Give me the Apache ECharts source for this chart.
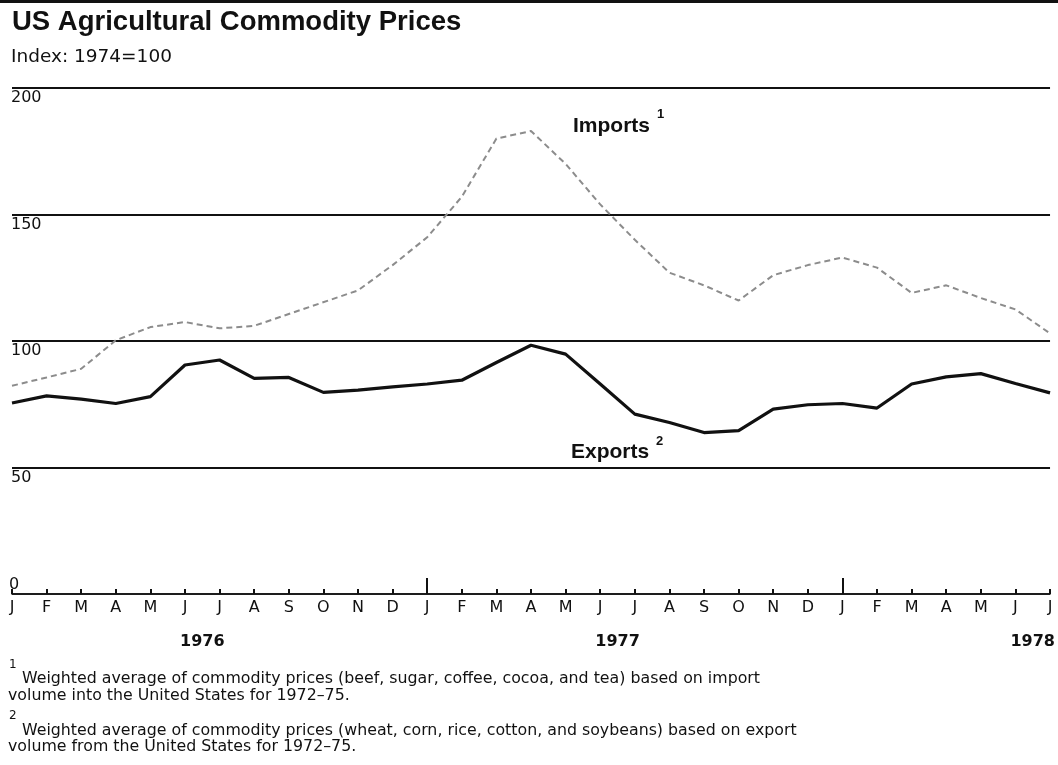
<!DOCTYPE html>
<html>
<head>
<meta charset="utf-8">
<title>US Agricultural Commodity Prices</title>
<script src="https://cdn.jsdelivr.net/npm/echarts@6/dist/echarts.min.js"></script>
<style>
  html, body { margin: 0; padding: 0; background: #fff; }
  #main { width: 1058px; height: 765px; }
</style>
</head>
<body>
<div id="main"></div>
<script>
// month letters, Jan 1976 .. Jul 1978
var months = ['J','F','M','A','M','J','J','A','S','O','N','D',
              'J','F','M','A','M','J','J','A','S','O','N','D',
              'J','F','M','A','M','J','J'];

// index, 1974 = 100
var imports = [82.3, 85.6, 89, 100.3, 105.5, 107.5, 105, 106, null, null, 120, 130,
               141, 157, 180, 183, 170, 154, 140, 127, 122, 116, 126, 130,
               133, 129, 119, 122, 117, 112.5, 103];
var exports = [75.5, 78.3, 77, 75.3, 78, 90.5, 92.5, 85.2, 85.6, 79.7, 80.6, 81.9,
               83, 84.5, 91.5, 98.3, 94.8, 83, 71.1, 67.8, 63.8, 64.6, 73.1, 74.8,
               75.3, 73.5, 83, 85.8, 87.1, 83.2, 79.5];

var yTicks = [0, 50, 100, 150, 200];
var years = ['1976', '1977', '1978'];
var yearPos = [5.5, 17.5, 29.5];   // between June and July of each year
var janIdx = [12, 24];             // long ticks

var footnotes = [
  ['1', 'Weighted average of commodity prices (beef, sugar, coffee, cocoa, and tea) based on import',
   'volume into the United States for 1972\u201375.'],
  ['2', 'Weighted average of commodity prices (wheat, corn, rice, cotton, and soybeans) based on export',
   'volume from the United States for 1972\u201375.']
];

var body = 'DejaVu Sans';
var myChart = echarts.init(document.getElementById('main'));

var option = {
  animation: false,
  backgroundColor: '#fff',
  grid: { left: 12, right: 3, top: 88, bottom: 171, containLabel: false },
  xAxis: [
    {
      type: 'category', data: months, boundaryGap: false,
      axisLine: { lineStyle: { color: '#222', width: 1.6 } },
      axisTick: { inside: true, length: 5, lineStyle: { color: '#111', width: 2 } },
      axisLabel: { color: '#111', fontFamily: body, fontSize: 16, margin: 6, interval: 0 },
      splitLine: { show: false }
    },
    {
      type: 'category', data: months, boundaryGap: false, position: 'bottom',
      axisLine: { show: false },
      axisTick: {
        inside: true, length: 16, lineStyle: { color: '#111', width: 2 },
        interval: function (i) { return janIdx.indexOf(i) >= 0; }
      },
      axisLabel: { show: false },
      splitLine: { show: false }
    },
    {
      type: 'value', min: 0, max: 30, interval: 0.5, position: 'bottom',
      axisLine: { show: false }, axisTick: { show: false }, splitLine: { show: false },
      axisLabel: {
        color: '#111', fontFamily: body, fontSize: 16, fontWeight: 'bold', margin: 40,
        formatter: function (v) {
          for (var i = 0; i < yearPos.length; i++) {
            if (Math.abs(v - yearPos[i]) < 1e-6) return years[i];
          }
          return '';
        }
      }
    }
  ],
  yAxis: [
    {
      type: 'value', min: 0, max: 200, interval: 50, position: 'left',
      axisLine: { show: false }, axisTick: { show: false },
      splitLine: { lineStyle: { color: '#111', width: 2 } },
      axisLabel: {
        inside: true, margin: -1, verticalAlign: 'top', padding: [2, 0, 0, 0],
        color: '#111', fontFamily: body, fontSize: 16,
        formatter: function (v) { return v === 0 ? '' : String(v); }
      }
    },
    {
      type: 'value', min: 0, max: 200, interval: 50, position: 'left',
      axisLine: { show: false }, axisTick: { show: false }, splitLine: { show: false },
      axisLabel: {
        inside: true, margin: -3, verticalAlign: 'bottom', padding: [0, 0, 1, 0],
        color: '#111', fontFamily: body, fontSize: 16,
        formatter: function (v) { return v === yTicks[0] ? '0' : ''; }
      }
    }
  ],
  series: [
    {
      name: 'Imports', type: 'line', data: imports, connectNulls: true,
      symbol: 'none', z: 3,
      lineStyle: { color: '#8c8c8c', width: 2, type: [6, 4] }
    },
    {
      name: 'Exports', type: 'line', data: exports,
      symbol: 'none', z: 4,
      lineStyle: { color: '#111', width: 3.2 }
    }
  ],
  graphic: [
    { type: 'rect', shape: { x: 0, y: 0, width: 1058, height: 3 }, style: { fill: '#111' } },
    { type: 'text', x: 12, y: 22,
      style: { text: 'US Agricultural Commodity Prices', fontFamily: 'Liberation Sans',
               fontSize: 27.5, fontWeight: 'bold', fill: '#111', verticalAlign: 'middle' } },
    { type: 'text', x: 11, y: 57,
      style: { text: 'Index: 1974=100', fontFamily: body, fontSize: 18.5,
               fill: '#111', verticalAlign: 'middle' } },
    { type: 'text', x: 573, y: 126,
      style: { text: 'Imports', fontFamily: 'Liberation Sans', fontSize: 21,
               fontWeight: 'bold', fill: '#111', verticalAlign: 'middle' } },
    { type: 'text', x: 657, y: 114,
      style: { text: '1', fontFamily: 'Liberation Sans', fontSize: 13,
               fontWeight: 'bold', fill: '#111', verticalAlign: 'middle' } },
    { type: 'text', x: 571, y: 452,
      style: { text: 'Exports', fontFamily: 'Liberation Sans', fontSize: 21,
               fontWeight: 'bold', fill: '#111', verticalAlign: 'middle' } },
    { type: 'text', x: 656, y: 441,
      style: { text: '2', fontFamily: 'Liberation Sans', fontSize: 13,
               fontWeight: 'bold', fill: '#111', verticalAlign: 'middle' } },
    // footnotes
    { type: 'text', x: 9, y: 665,
      style: { text: footnotes[0][0], fontFamily: body, fontSize: 12, fill: '#111', verticalAlign: 'middle' } },
    { type: 'text', x: 22, y: 679,
      style: { text: footnotes[0][1], fontFamily: body, fontSize: 15.8, fill: '#111', verticalAlign: 'middle' } },
    { type: 'text', x: 8, y: 696,
      style: { text: footnotes[0][2], fontFamily: body, fontSize: 15.8, fill: '#111', verticalAlign: 'middle' } },
    { type: 'text', x: 9, y: 716,
      style: { text: footnotes[1][0], fontFamily: body, fontSize: 12, fill: '#111', verticalAlign: 'middle' } },
    { type: 'text', x: 22, y: 731,
      style: { text: footnotes[1][1], fontFamily: body, fontSize: 15.8, fill: '#111', verticalAlign: 'middle' } },
    { type: 'text', x: 8, y: 747,
      style: { text: footnotes[1][2], fontFamily: body, fontSize: 15.8, fill: '#111', verticalAlign: 'middle' } }
  ]
};

myChart.setOption(option);
</script>
</body>
</html>
